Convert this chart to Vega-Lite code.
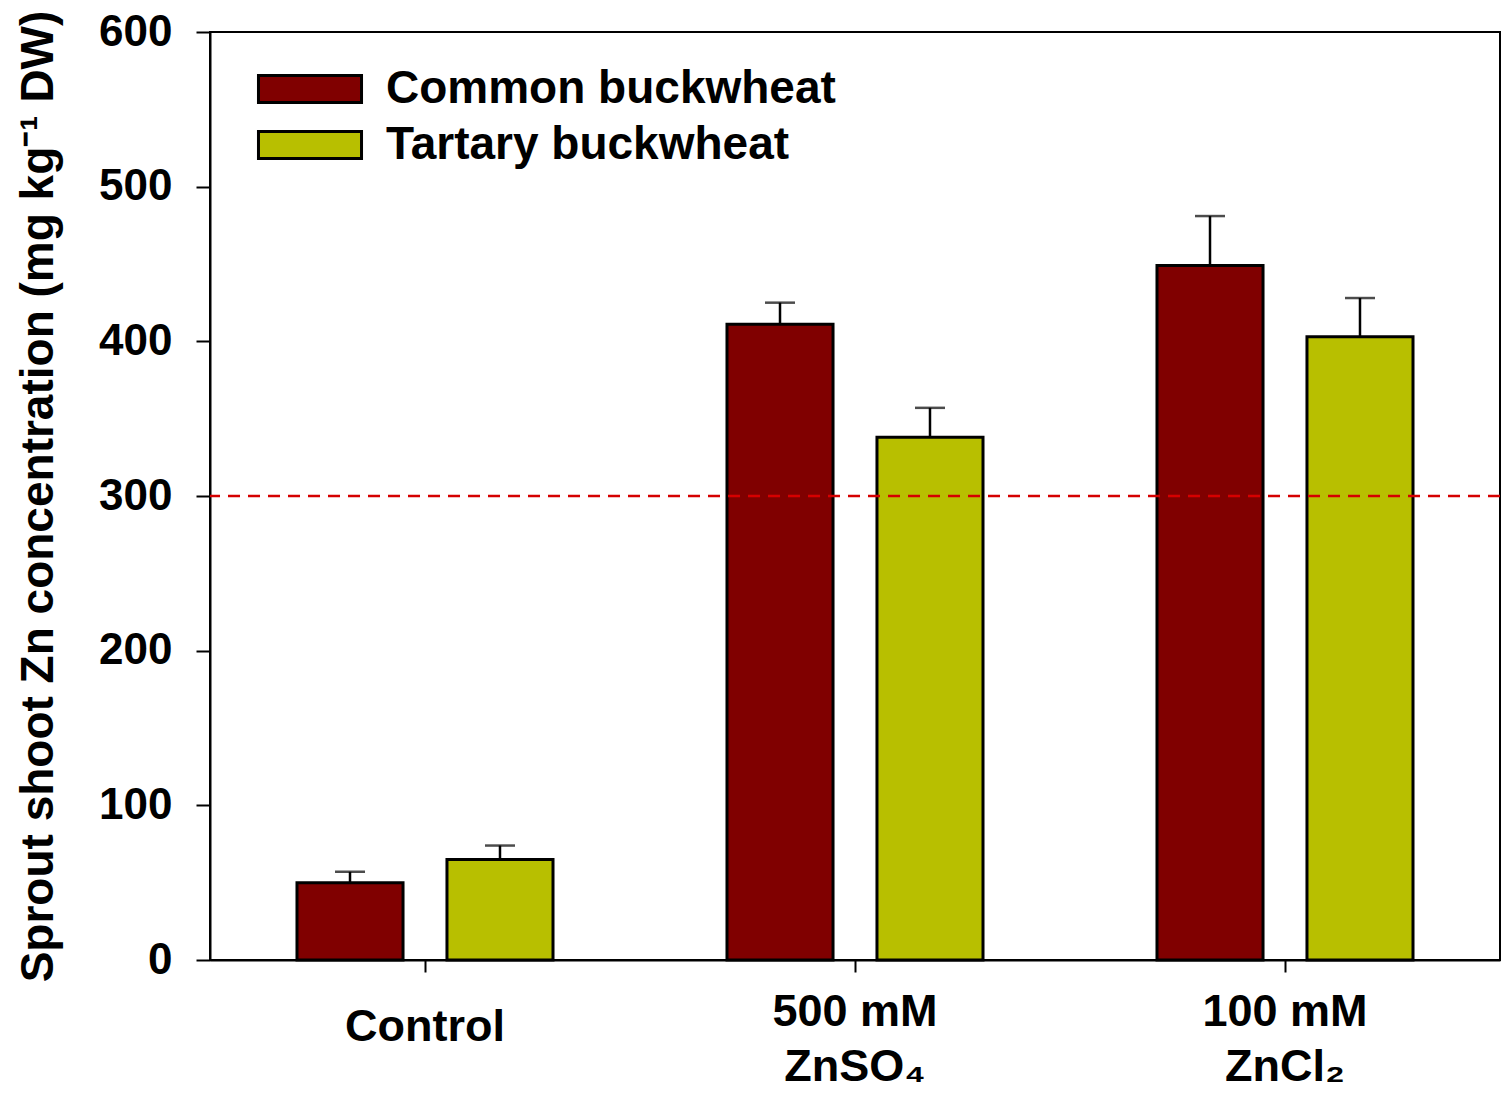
{
  "$schema": "https://vega.github.io/schema/vega-lite/v6.json",
  "width": 1290,
  "height": 928,
  "autosize": {"type": "none"},
  "padding": {"left": 210, "top": 32, "right": 9, "bottom": 137},
  "background": "white",
  "config": {
    "font": "Liberation Sans",
    "view": {"stroke": "black", "strokeWidth": 2},
    "axis": {"labelFont": "Liberation Sans", "titleFont": "Liberation Sans", "labelColor": "black", "titleColor": "black"}
  },
  "data": {
    "values": [
      {"treatment": "Control", "species": "Common buckwheat", "mean": 50, "upper": 57},
      {"treatment": "Control", "species": "Tartary buckwheat", "mean": 65, "upper": 74},
      {"treatment": "500 mM ZnSO₄", "species": "Common buckwheat", "mean": 411, "upper": 425},
      {"treatment": "500 mM ZnSO₄", "species": "Tartary buckwheat", "mean": 338, "upper": 357},
      {"treatment": "100 mM ZnCl₂", "species": "Common buckwheat", "mean": 449, "upper": 481},
      {"treatment": "100 mM ZnCl₂", "species": "Tartary buckwheat", "mean": 403, "upper": 428}
    ]
  },
  "encoding": {
    "x": {
      "field": "treatment",
      "type": "nominal",
      "sort": null,
      "scale": {"paddingInner": 0, "paddingOuter": 0},
      "axis": {
        "title": null,
        "labelAngle": 0,
        "labelFontSize": 45,
        "labelFontWeight": "bold",
        "labelLineHeight": 55,
        "labelBaseline": "top",
        "labelPadding": {"condition": {"test": "datum.value == 'Control'", "value": 32}, "value": 17},
        "labelExpr": "datum.value == 'Control' ? 'Control' : [slice(datum.value, 0, 6), slice(datum.value, 7)]",
        "tickSize": 12,
        "tickWidth": 2,
        "tickColor": "black",
        "domainColor": "black",
        "domainWidth": 2
      }
    },
    "xOffset": {
      "field": "species",
      "type": "nominal",
      "sort": null,
      "scale": {"paddingInner": 0.293, "paddingOuter": 0.58}
    }
  },
  "layer": [
    {
      "mark": {"type": "bar", "stroke": "black", "strokeWidth": 3},
      "encoding": {
        "y": {
          "field": "mean",
          "type": "quantitative",
          "scale": {"domain": [0, 600], "nice": false, "zero": true},
          "axis": {
            "title": "Sprout shoot Zn concentration (mg kg⁻¹ DW)",
            "titleFontSize": 46,
            "titleFontWeight": "bold",
            "titlePadding": 36,
            "values": [0, 100, 200, 300, 400, 500, 600],
            "grid": false,
            "labelFontSize": 44,
            "labelFontWeight": "bold",
            "labelPadding": 24,
            "tickSize": 14,
            "tickWidth": 2,
            "tickColor": "black",
            "domainColor": "black",
            "domainWidth": 2
          }
        },
        "fill": {
          "field": "species",
          "type": "nominal",
          "sort": null,
          "scale": {"domain": ["Common buckwheat", "Tartary buckwheat"], "range": ["#800000", "#B8BF00"]},
          "legend": {
            "title": null,
            "orient": "none",
            "legendX": 77,
            "legendY": 34,
            "symbolType": "M-3.68,-0.96 L3.68,-0.96 L3.68,0.96 L-3.68,0.96 Z",
            "symbolSize": 784,
            "symbolStrokeColor": "black",
            "symbolStrokeWidth": 3,
            "symbolOpacity": 1,
            "labelFontSize": 46,
            "labelFontWeight": "bold",
            "labelColor": "black",
            "labelLimit": 800,
            "labelOffset": 53,
            "rowPadding": 10,
            "padding": 0
          }
        }
      }
    },
    {
      "mark": {"type": "rule", "color": "black", "strokeWidth": 2.5},
      "encoding": {
        "y": {"field": "mean", "type": "quantitative"},
        "y2": {"field": "upper"}
      }
    },
    {
      "mark": {"type": "tick", "color": "black", "thickness": 2.5, "size": 30, "orient": "horizontal"},
      "encoding": {
        "y": {"field": "upper", "type": "quantitative"}
      }
    },
    {
      "data": {"values": [{"threshold": 300}]},
      "mark": {"type": "rule", "color": "#D50000", "strokeWidth": 2.5, "strokeDash": [12, 8]},
      "encoding": {
        "y": {"field": "threshold", "type": "quantitative"},
        "x": null,
        "xOffset": null
      }
    }
  ]
}
